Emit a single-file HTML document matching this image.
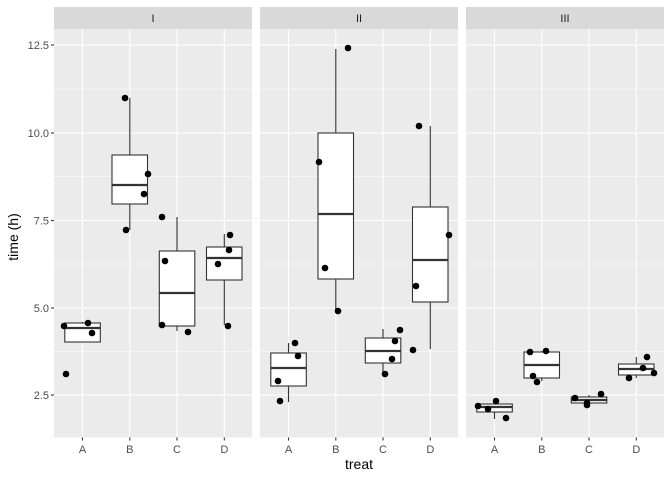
<!DOCTYPE html>
<html><head><meta charset="utf-8"><style>
html,body{margin:0;padding:0;background:#fff}
svg{display:block}
text{font-family:"Liberation Sans",Arial,sans-serif}
</style></head><body>
<svg width="672" height="480" viewBox="0 0 672 480" xmlns="http://www.w3.org/2000/svg">
<defs>
<g id="grid">
  <rect x="0" y="29" width="198" height="408.5" fill="#ebebeb"/>
  <g stroke="#fff" stroke-width="0.55">
    <line x1="0" x2="198" y1="89" y2="89"/>
    <line x1="0" x2="198" y1="176.5" y2="176.5"/>
    <line x1="0" x2="198" y1="264" y2="264"/>
    <line x1="0" x2="198" y1="351.5" y2="351.5"/>
  </g>
  <g stroke="#fff" stroke-width="1.1">
    <line x1="0" x2="198" y1="45" y2="45"/>
    <line x1="0" x2="198" y1="133" y2="133"/>
    <line x1="0" x2="198" y1="220.5" y2="220.5"/>
    <line x1="0" x2="198" y1="308" y2="308"/>
    <line x1="0" x2="198" y1="395" y2="395"/>
    <line x1="28.5" x2="28.5" y1="29" y2="437.5"/>
    <line x1="75.8" x2="75.8" y1="29" y2="437.5"/>
    <line x1="123" x2="123" y1="29" y2="437.5"/>
    <line x1="170.3" x2="170.3" y1="29" y2="437.5"/>
  </g>
  <rect x="0" y="7" width="198" height="22" fill="#d9d9d9"/>
  <g stroke="#333" stroke-width="1.1">
    <line x1="28.5" x2="28.5" y1="437.5" y2="440.5"/>
    <line x1="75.8" x2="75.8" y1="437.5" y2="440.5"/>
    <line x1="123" x2="123" y1="437.5" y2="440.5"/>
    <line x1="170.3" x2="170.3" y1="437.5" y2="440.5"/>
  </g>
  <g font-size="11" fill="#4d4d4d" text-anchor="middle">
    <text x="28.5" y="453">A</text>
    <text x="75.8" y="453">B</text>
    <text x="123" y="453">C</text>
    <text x="170.3" y="453">D</text>
  </g>
</g>
</defs>

<use href="#grid" x="54"/>
<use href="#grid" x="260"/>
<use href="#grid" x="466"/>

<g font-size="11" fill="#1a1a1a" text-anchor="middle">
  <text x="153" y="22">I</text>
  <text x="359" y="22">II</text>
  <text x="565" y="22">III</text>
</g>

<!-- y axis -->
<g stroke="#333" stroke-width="1.1">
  <line x1="51" x2="54" y1="45" y2="45"/>
  <line x1="51" x2="54" y1="133" y2="133"/>
  <line x1="51" x2="54" y1="220.5" y2="220.5"/>
  <line x1="51" x2="54" y1="308" y2="308"/>
  <line x1="51" x2="54" y1="395" y2="395"/>
</g>
<g font-size="11" fill="#4d4d4d" text-anchor="end">
  <text x="49" y="49">12.5</text>
  <text x="49" y="137">10.0</text>
  <text x="49" y="224.5">7.5</text>
  <text x="49" y="312">5.0</text>
  <text x="49" y="399">2.5</text>
</g>
<text x="359" y="469" font-size="14" fill="#000" text-anchor="middle">treat</text>
<text transform="translate(18,237) rotate(-90)" font-size="14" fill="#000" text-anchor="middle">time (h)</text>

<!-- boxes -->
<g stroke="#333" stroke-width="1.1" fill="#fff">
  <!-- Panel I -->
  <line x1="82.5" x2="82.5" y1="322" y2="342"/>
  <rect x="64.8" y="323" width="35.5" height="19"/>
  <line x1="129.8" x2="129.8" y1="98" y2="230"/>
  <rect x="112" y="155" width="35.5" height="49"/>
  <line x1="177" x2="177" y1="217" y2="331"/>
  <rect x="159.3" y="251" width="35.5" height="75"/>
  <line x1="224.3" x2="224.3" y1="234" y2="325"/>
  <rect x="206.5" y="247" width="35.5" height="33"/>
  <!-- Panel II -->
  <line x1="288.5" x2="288.5" y1="343" y2="402"/>
  <rect x="270.8" y="353" width="35.5" height="33"/>
  <line x1="335.8" x2="335.8" y1="49" y2="310"/>
  <rect x="318" y="133" width="35.5" height="146"/>
  <line x1="383" x2="383" y1="329" y2="373"/>
  <rect x="365.3" y="338" width="35.5" height="25"/>
  <line x1="430.3" x2="430.3" y1="126" y2="349"/>
  <rect x="412.5" y="207" width="35.5" height="95"/>
  <!-- Panel III -->
  <line x1="494.5" x2="494.5" y1="401" y2="419"/>
  <rect x="476.8" y="404" width="35.5" height="8"/>
  <line x1="541.8" x2="541.8" y1="351" y2="381"/>
  <rect x="524" y="352" width="35.5" height="26"/>
  <line x1="589" x2="589" y1="395" y2="406"/>
  <rect x="571.3" y="397" width="35.5" height="6"/>
  <line x1="636.3" x2="636.3" y1="357" y2="378"/>
  <rect x="618.5" y="364" width="35.5" height="11"/>
</g>
<g stroke="#333" stroke-width="2.3">
  <line x1="64.8" x2="100.3" y1="328" y2="328"/>
  <line x1="112" x2="147.5" y1="185" y2="185"/>
  <line x1="159.3" x2="194.8" y1="293" y2="293"/>
  <line x1="206.5" x2="242" y1="258" y2="258"/>
  <line x1="270.8" x2="306.3" y1="368" y2="368"/>
  <line x1="318" x2="353.5" y1="214" y2="214"/>
  <line x1="365.3" x2="400.8" y1="351" y2="351"/>
  <line x1="412.5" x2="448" y1="260" y2="260"/>
  <line x1="476.8" x2="512.3" y1="407" y2="407"/>
  <line x1="524" x2="559.5" y1="365" y2="365"/>
  <line x1="571.3" x2="606.8" y1="400" y2="400"/>
  <line x1="618.5" x2="654" y1="369" y2="369"/>
</g>

<!-- points -->
<g fill="#000">
  <circle cx="64" cy="326" r="3.3"/><circle cx="88" cy="323" r="3.3"/><circle cx="92" cy="333" r="3.3"/><circle cx="66" cy="374" r="3.3"/>
  <circle cx="125" cy="98" r="3.3"/><circle cx="148" cy="174" r="3.3"/><circle cx="144" cy="194" r="3.3"/><circle cx="126" cy="230" r="3.3"/>
  <circle cx="162" cy="217" r="3.3"/><circle cx="165" cy="261" r="3.3"/><circle cx="162" cy="325" r="3.3"/><circle cx="188" cy="332" r="3.3"/>
  <circle cx="230" cy="235" r="3.3"/><circle cx="229" cy="250" r="3.3"/><circle cx="218" cy="264" r="3.3"/><circle cx="228" cy="326" r="3.3"/>

  <circle cx="295" cy="343" r="3.3"/><circle cx="298" cy="356" r="3.3"/><circle cx="278" cy="381" r="3.3"/><circle cx="280" cy="401" r="3.3"/>
  <circle cx="348" cy="48" r="3.3"/><circle cx="319" cy="162" r="3.3"/><circle cx="325" cy="268" r="3.3"/><circle cx="338" cy="311" r="3.3"/>
  <circle cx="400" cy="330" r="3.3"/><circle cx="395" cy="341" r="3.3"/><circle cx="392" cy="359" r="3.3"/><circle cx="385" cy="374" r="3.3"/>
  <circle cx="419" cy="126" r="3.3"/><circle cx="449" cy="235" r="3.3"/><circle cx="416" cy="286" r="3.3"/><circle cx="413" cy="350" r="3.3"/>

  <circle cx="478" cy="406" r="3.3"/><circle cx="496" cy="401" r="3.3"/><circle cx="488" cy="409" r="3.3"/><circle cx="506" cy="418" r="3.3"/>
  <circle cx="530" cy="352" r="3.3"/><circle cx="546" cy="351" r="3.3"/><circle cx="533" cy="376" r="3.3"/><circle cx="537" cy="382" r="3.3"/>
  <circle cx="575" cy="398" r="3.3"/><circle cx="601" cy="394" r="3.3"/><circle cx="587" cy="403" r="3.3"/><circle cx="587" cy="405" r="3.3"/>
  <circle cx="647" cy="357" r="3.3"/><circle cx="643" cy="368" r="3.3"/><circle cx="654" cy="373" r="3.3"/><circle cx="629" cy="378" r="3.3"/>
</g>
</svg>
</body></html>
